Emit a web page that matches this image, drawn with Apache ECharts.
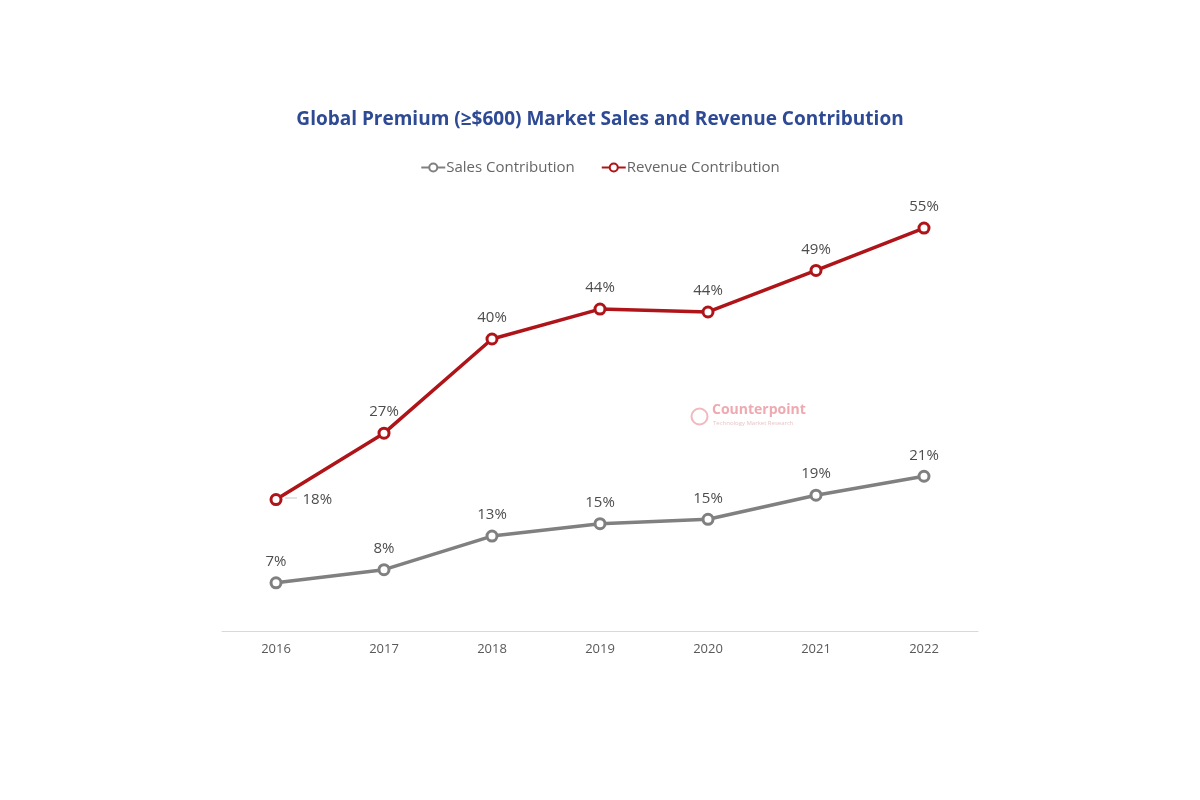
<!DOCTYPE html>
<html><head><meta charset="utf-8">
<script src="https://cdn.jsdelivr.net/npm/echarts@6/dist/echarts.min.js"></script>
<style>html,body{margin:0;padding:0;background:#fff}#c{width:1200px;height:800px}</style>
</head><body><div id="c"></div>
<script>
const years = ['2016','2017','2018','2019','2020','2021','2022'];
const salesContribution = [6.6, 8.4, 13.0, 14.7, 15.3, 18.6, 21.2];
const revenueContribution = [18.0, 27.1, 40.0, 44.1, 43.7, 49.4, 55.2];
const seriesNames = ['Sales Contribution', 'Revenue Contribution'];
const titleText = 'Global Premium (≥$600) Market Sales and Revenue Contribution';

const font = '"Open Sans", "Noto Sans", sans-serif';
const grayC = '#808080', redC = '#AE1418';
const chart = echarts.init(document.getElementById('c'));
const lblFmt = p => Math.round(p.value) + '%';
chart.setOption({
  animation: false,
  backgroundColor: '#fff',
  title: {
    text: titleText, left: 'center', top: 105,
    textStyle: {fontFamily: font, fontSize: 19, fontWeight: 'bold', color: '#2E4A94'}
  },
  legend: {
    top: 155, left: 'center', itemGap: 26, itemWidth: 24, itemHeight: 10,
    textStyle: {fontFamily: font, fontSize: 15, color: '#666666', padding: [0,0,0,-4]},
    data: seriesNames
  },
  grid: {left: 222, right: 222, top: 193, bottom: 169},
  xAxis: {
    type: 'category', data: years, boundaryGap: true,
    axisLine: {lineStyle: {color: '#D9D9D9', width: 1}},
    axisTick: {show: false},
    axisLabel: {fontFamily: font, fontSize: 13, color: '#595959', margin: 12}
  },
  yAxis: {type: 'value', min: 0, max: 60, show: false, splitLine: {show: false}},
  series: [
    {
      name: seriesNames[0], type: 'line', data: salesContribution,
      symbol: 'circle', symbolSize: 10,
      lineStyle: {color: grayC, width: 3.5},
      itemStyle: {color: '#fff', borderColor: grayC, borderWidth: 3},
      label: {show: true, position: 'top', distance: 7, formatter: lblFmt,
        fontFamily: font, fontSize: 15, color: '#4D4D4D'}
    },
    {
      name: seriesNames[1], type: 'line', data: revenueContribution.map((v, i) => i === 0 ? {
        value: v, label: {position: 'right', distance: 20}
      } : v),
      symbol: 'circle', symbolSize: 10,
      lineStyle: {color: redC, width: 3.5},
      itemStyle: {color: '#fff', borderColor: redC, borderWidth: 3},
      label: {show: true, position: 'top', distance: 7, formatter: lblFmt,
        fontFamily: font, fontSize: 15, color: '#4D4D4D'}
    }
  ],
  graphic: [
    {type: 'line', shape: {x1: 285, y1: 498, x2: 297, y2: 498}, style: {stroke: '#C8C8C8', lineWidth: 1}, silent: true},
    {type: 'circle', left: 689, top: 406, shape: {r: 8}, style: {fill: 'none', stroke: '#F2B8BC', lineWidth: 2}, silent: true},
    {type: 'text', left: 712, top: 403, style: {text: 'Counterpoint', font: 'bold 14px "Open Sans", sans-serif', fill: '#EFA9B0'}, silent: true},
    {type: 'text', left: 713, top: 420, style: {text: 'Technology Market Research', font: '6px "Open Sans", sans-serif', fill: '#E8C6C9'}, silent: true}
  ]
});
</script></body></html>
